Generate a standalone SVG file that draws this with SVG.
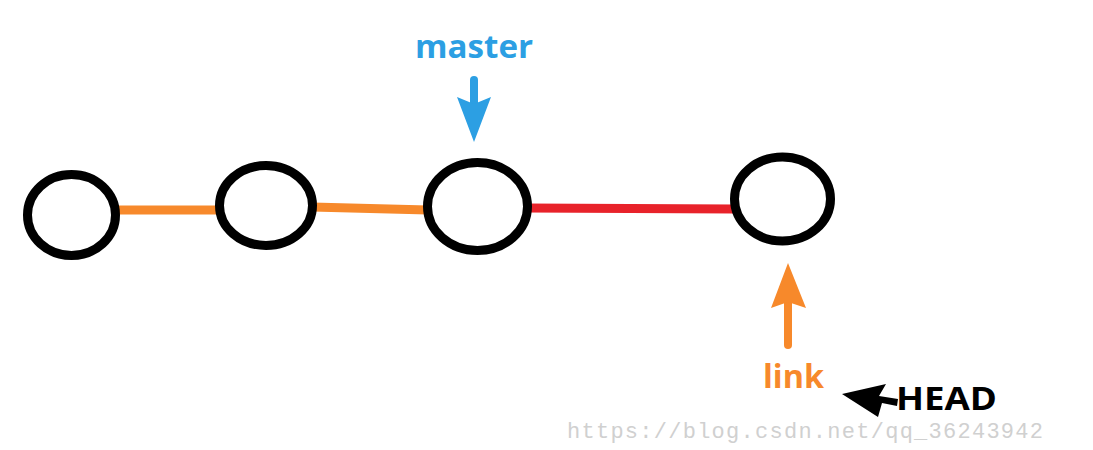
<svg xmlns="http://www.w3.org/2000/svg" width="1093" height="450" viewBox="0 0 1093 450">
<style>
.node{fill:#fff;stroke:#000;stroke-width:9}
.edge{fill:none;stroke-width:9}
.lbl{font-family:"Open Sans","Liberation Sans",sans-serif;font-weight:bold;font-size:32px}
.wm{font-family:"Liberation Mono","DejaVu Sans Mono",monospace;font-size:22px;fill:#d0d0d0}
</style>
<rect width="1093" height="450" fill="#fff"/>
<g id="connectors">
<line class="edge" x1="114" y1="210" x2="220" y2="210" stroke="#F7892B"/>
<line class="edge" x1="312" y1="207" x2="428" y2="210" stroke="#F7892B"/>
<line class="edge" x1="526" y1="208" x2="734" y2="209" stroke="#E8222A"/>
</g>
<g id="n1"><ellipse class="node" cx="71.5" cy="215" rx="44" ry="40.5"/></g>
<g id="n2"><ellipse class="node" cx="266" cy="205.5" rx="46.5" ry="40"/></g>
<g id="n3"><ellipse class="node" cx="477.5" cy="206.5" rx="50" ry="44"/></g>
<g id="n4"><ellipse class="node" cx="782.5" cy="199" rx="48" ry="42"/></g>
<g id="master">
<text class="lbl" x="415" y="58" fill="#2C9FE3" textLength="118" lengthAdjust="spacingAndGlyphs">master</text>
<line x1="474" y1="80" x2="474" y2="104" stroke="#2C9FE3" stroke-width="8" stroke-linecap="round"/>
<polygon points="457,97 474,104 491,97 474,142" fill="#2C9FE3"/>
</g>
<g id="link">
<text class="lbl" x="763" y="388" fill="#F7892B" textLength="61" lengthAdjust="spacingAndGlyphs">link</text>
<line x1="788" y1="300" x2="788" y2="345" stroke="#F7892B" stroke-width="8" stroke-linecap="round"/>
<polygon points="788,263 806,308 788,302 771,308" fill="#F7892B"/>
</g>
<g id="HEAD">
<text class="lbl" x="896" y="410" fill="#000" textLength="101" lengthAdjust="spacingAndGlyphs">HEAD</text>
<polygon points="842,394 886,384 879,396 898,399 897,406 882,403 878,417" fill="#000"/>
</g>
<text class="wm" x="567" y="438" textLength="476" lengthAdjust="spacing">https://blog.csdn.net/qq_36243942</text>
</svg>
